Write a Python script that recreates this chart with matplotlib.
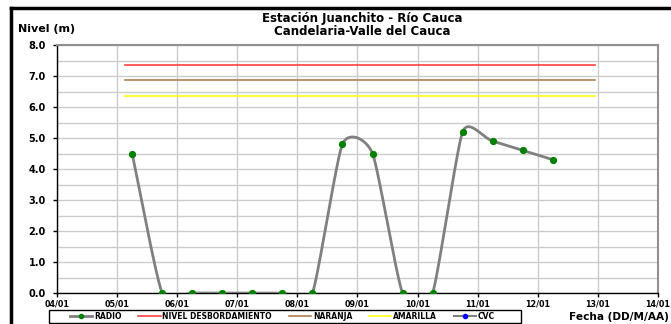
"""
Nivel del río - Estación Juanchito (Río Cauca), réplica del gráfico de Excel.
"""

from datetime import datetime, timedelta
import numpy as np
import matplotlib
matplotlib.use("Agg")
import matplotlib.pyplot as plt
import matplotlib.dates as mdates
from matplotlib.lines import Line2D
from matplotlib.patches import Rectangle

plt.rcParams["font.family"] = ["DejaVu Sans"]
plt.rcParams["font.weight"] = "bold"

# Data ------------------------------------------------------------------------

radio_start = datetime(2011, 1, 5, 6)
radio_step_h = 12
radio_values = [4.5, 0.0, 0.0, 0.0, 0.0, 0.0, 0.0, 4.8, 4.5, 0.0, 0.0,
                5.2, 4.9, 4.6, 4.3]

umbral_inicio = datetime(2011, 1, 5, 3)
umbral_fin = datetime(2011, 1, 12, 23)
nivel_desbordamiento = 7.37
naranja = 6.87
amarilla = 6.37

x_min = datetime(2011, 1, 4)
x_max = datetime(2011, 1, 14)
y_ticks = [0, 1, 2, 3, 4, 5, 6, 7, 8]

radio_dates = [radio_start + timedelta(hours=radio_step_h * i)
               for i in range(len(radio_values))]


def excel_smooth(xs, ys, sx, sy, n=40):
    """Bezier smoothing like Excel's 'smoothed line' (computed in pixel units)."""
    px = np.asarray(xs, float) * sx
    py = np.asarray(ys, float) * sy
    m = len(px)
    ext_x = np.concatenate([[px[0]], px, [px[-1]]])
    ext_y = np.concatenate([[py[0]], py, [py[-1]]])
    tx, ty = np.zeros(m), np.zeros(m)
    for i in range(m):
        x0, x1, x2 = ext_x[i], ext_x[i + 1], ext_x[i + 2]
        y0, y1, y2 = ext_y[i], ext_y[i + 1], ext_y[i + 2]
        d01 = np.hypot(x1 - x0, y1 - y0)
        d12 = np.hypot(x2 - x1, y2 - y1)
        d02 = np.hypot(x2 - x0, y2 - y0)
        if d02 == 0:
            continue
        f = 1 / 6
        lim = min(d for d in (d01, d12) if d > 0) / 2 if max(d01, d12) > 0 else 0
        if d02 * f > lim:
            f = lim / d02
        tx[i], ty[i] = f * (x2 - x0), f * (y2 - y0)
    t = np.linspace(0, 1, n)[:, None]
    out_x, out_y = [], []
    for i in range(m - 1):
        P = np.array([[px[i], py[i]],
                      [px[i] + tx[i], py[i] + ty[i]],
                      [px[i + 1] - tx[i + 1], py[i + 1] - ty[i + 1]],
                      [px[i + 1], py[i + 1]]])
        b = ((1 - t) ** 3 * P[0] + 3 * (1 - t) ** 2 * t * P[1]
             + 3 * (1 - t) * t ** 2 * P[2] + t ** 3 * P[3])
        out_x.append(b[:, 0])
        out_y.append(b[:, 1])
    return np.concatenate(out_x) / sx, np.concatenate(out_y) / sy


# Figure ----------------------------------------------------------------------

W, H = 671, 324
fig = plt.figure(figsize=(W / 100, H / 100), dpi=100)
ax = fig.add_axes([57 / W, 31 / H, 601 / W, 248 / H])

xnum = mdates.date2num(radio_dates)
sx, sy = 60.1, 31.0   # px per day, px per metre
smx, smy = excel_smooth(xnum, radio_values, sx, sy)
ax.plot(smx, smy, color="#808080", lw=2.0, zorder=3)
ax.plot(xnum, radio_values, ls="none", marker="o", ms=4.2,
        color="#008000", zorder=4)

ax.plot([umbral_inicio, umbral_fin], [nivel_desbordamiento] * 2,
        color="#ff4040", lw=1.2, zorder=2)
ax.plot([umbral_inicio, umbral_fin], [naranja] * 2,
        color="#b08050", lw=1.2, zorder=2)
ax.plot([umbral_inicio, umbral_fin], [amarilla] * 2,
        color="#ffff40", lw=1.5, zorder=2)

ax.set_xlim(x_min, x_max)
ax.set_ylim(0, 8)
ax.xaxis.set_major_locator(mdates.DayLocator())
ax.xaxis.set_major_formatter(mdates.DateFormatter("%d/%m"))
ax.set_yticks(y_ticks)
ax.set_yticklabels([f"{v:.1f}" for v in y_ticks])
ax.set_yticks(np.arange(0.5, 8, 1.0), minor=True)
ax.tick_params(axis="y", which="minor", length=0)
ax.tick_params(axis="both", which="major", length=3, width=1, pad=2,
               color="black")
ax.tick_params(axis="y", labelsize=7, pad=5)
ax.tick_params(axis="x", labelsize=5.8)

ax.grid(True, which="both", color="#cccccc", lw=1.0, zorder=0)
ax.set_axisbelow(True)
for side in ("top", "right"):
    ax.spines[side].set_color("#909090")
    ax.spines[side].set_linewidth(1.5)
for side in ("left", "bottom"):
    ax.spines[side].set_color("black")
    ax.spines[side].set_linewidth(1.0)

fig.text(362 / W, 1 - 25 / H, "Estación Juanchito - Río Cauca\nCandelaria-Valle del Cauca",
         ha="center", va="center", fontsize=8.5, fontweight="bold",
         linespacing=1.0)
fig.text(18 / W, 1 - 29 / H, "Nivel (m)", ha="left", va="center",
         fontsize=8, fontweight="bold")
fig.text(669 / W, 1 - 317 / H, "Fecha (DD/M/AA)", ha="right",
         va="center", fontsize=7.6, fontweight="bold")

# chart area border (left & top visible in crop)
fig.add_artist(Line2D([11 / W, 11 / W], [0, 1 - 8 / H],
                      color="black", lw=2.5))
fig.add_artist(Line2D([11 / W, 1], [1 - 8 / H, 1 - 8 / H],
                      color="black", lw=2.5))

# legend box + entries
fig.add_artist(Rectangle((49 / W, 1 / H), 472 / W, 13 / H,
                         transform=fig.transFigure, fill=False,
                         edgecolor="black", lw=1.0))
handles = [
    Line2D([], [], color="#808080", lw=2, marker="o", ms=3,
           mfc="#008000", mec="#008000"),
    Line2D([], [], color="#ff4040", lw=1.2),
    Line2D([], [], color="#b08050", lw=1.2),
    Line2D([], [], color="#ffff40", lw=1.5),
    Line2D([], [], color="#808080", lw=1.5, marker="o", ms=3,
           mfc="#0000ff", mec="#0000ff"),
]
labels = ["RADIO", "NIVEL DESBORDAMIENTO", "NARANJA", "AMARILLA", "CVC"]
leg = fig.legend(handles, labels, loc="center left",
                 bbox_to_anchor=(70 / W, 1 - 316.5 / H),
                 ncol=5, fontsize=5.5, frameon=False,
                 borderpad=0, handlelength=2.9, handletextpad=0.25,
                 columnspacing=2.2, borderaxespad=0)
for t in leg.get_texts():
    t.set_fontweight("bold")

fig.savefig("out.png", dpi=100, facecolor="white")
